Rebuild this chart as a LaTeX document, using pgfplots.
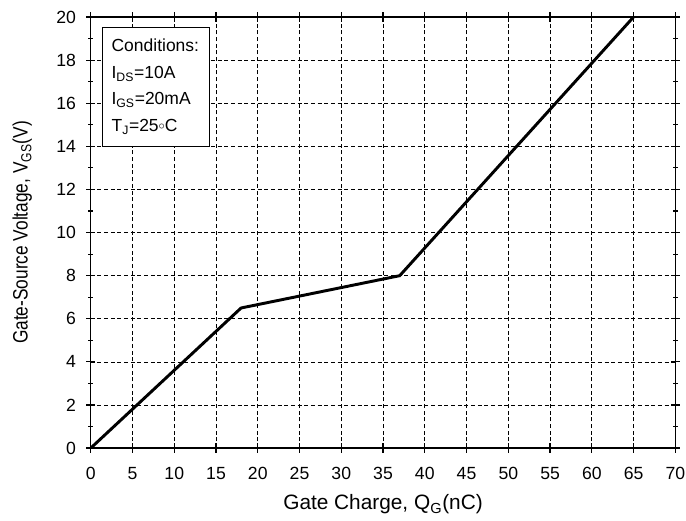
\documentclass[border=0pt]{standalone}
\usepackage{pgfplots}
\pgfplotsset{compat=1.18}
\usepackage{fontspec}
\setmainfont{Liberation Sans}

\begin{document}
\begin{tikzpicture}
% fixed page frame, proportions of the reference
\useasboundingbox (-68pt,-54pt) rectangle (446pt,335.75pt);
\begin{axis}[
  at={(0,0)}, anchor=south west,
  width=438pt, height=323pt, scale only axis,
  xmin=0, xmax=70, ymin=0, ymax=20,
  xtick={0,5,...,70}, ytick={0,2,...,20},
  minor y tick num=1,
  tick align=center,
  major tick length=7pt, minor tick length=4pt,
  every tick/.style={black, line width=0.9pt},
  axis line style={line width=1.1pt},
  grid=major, grid style={black, line width=0.5pt, dash pattern=on 3pt off 2pt},
  tick label style={font=\fontsize{13.2}{15}\selectfont},
  xticklabel style={yshift=-7.5pt},
  yticklabel style={xshift=-4pt},
  /pgf/number format/assume math mode=true,
  label style={font=\fontsize{15.6}{18}\selectfont},
  xlabel={Gate Charge, Q\textsubscript{G}(nC)},
  ylabel={\scalebox{0.83}[1]{Gate-Source Voltage, V\textsubscript{GS}(V)}},
  xlabel style={at={(axis description cs:0.5,-0.13)}, anchor=center},
  ylabel style={at={(axis description cs:-0.117,0.5)}, anchor=center},
]
\addplot[black, line width=2.2pt] coordinates {
(0,0) (18,6.5) (37,8.0) (65,20)
};
\node[draw, fill=white, line width=0.6pt, anchor=north west, align=left,
  inner xsep=7pt, minimum width=80pt, minimum height=89pt, text width=66pt,
  font=\fontsize{13.1}{20}\selectfont]
  at (rel axis cs:0.019,0.977)
  {Conditions:\\I\textsubscript{DS}=10A\\I\textsubscript{GS}=20mA\\T\textsubscript{J}=25\raisebox{0.2ex}{$\scriptstyle\circ$}C};
\end{axis}
\end{tikzpicture}
\end{document}
